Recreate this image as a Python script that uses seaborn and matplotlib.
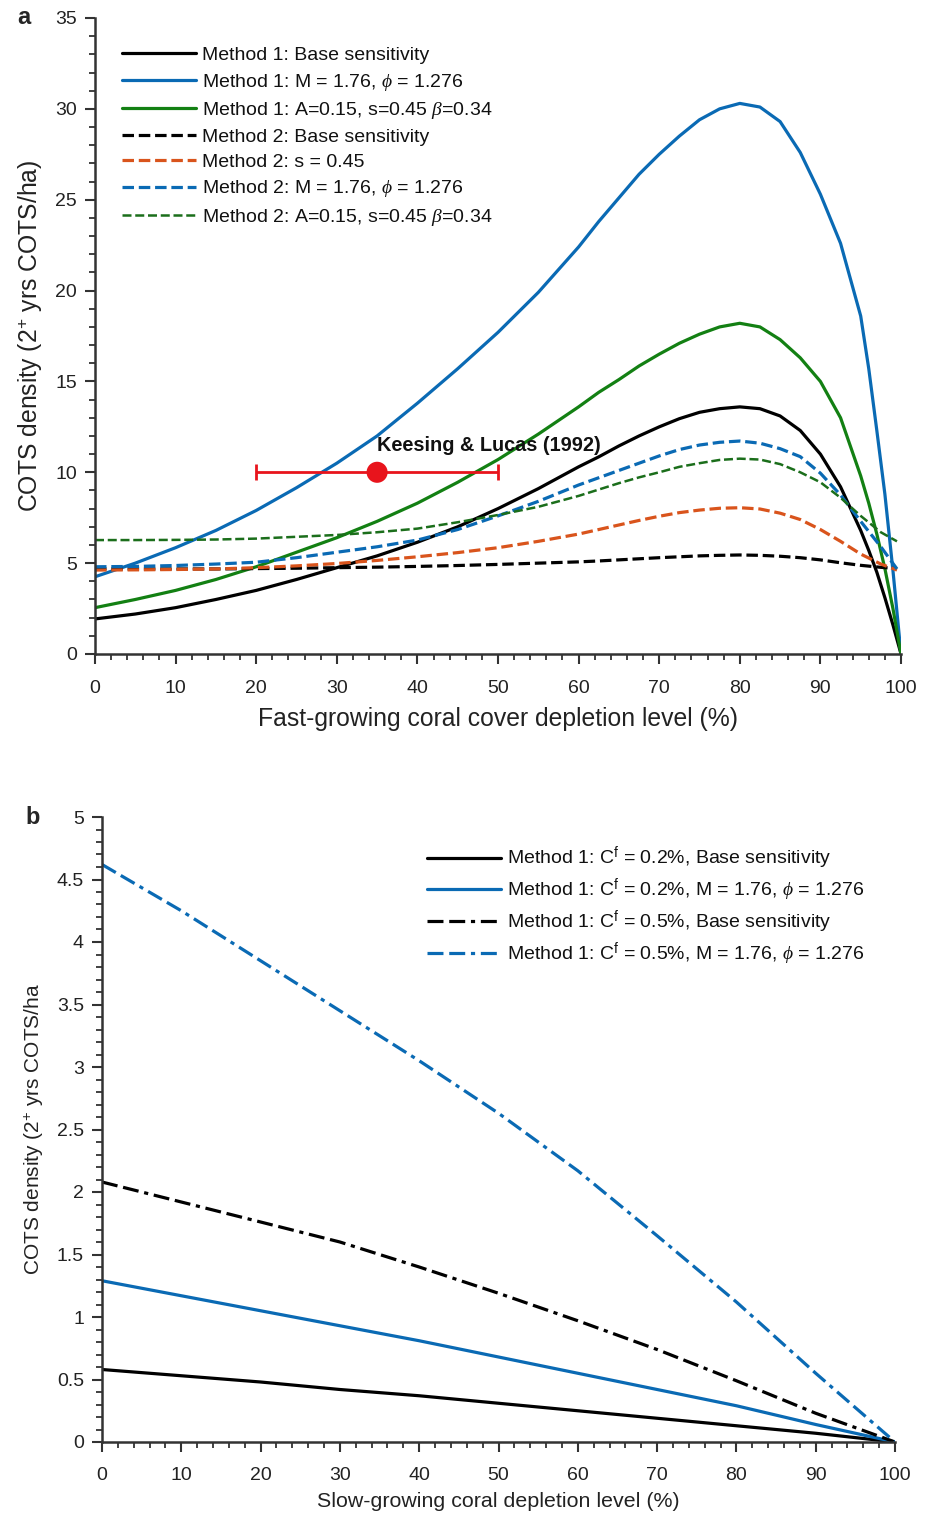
import numpy as np
import pandas as pd
import matplotlib
matplotlib.use("Agg")
import matplotlib.pyplot as plt
import seaborn as sns
from matplotlib.ticker import MultipleLocator, FuncFormatter

# ---------------- data: panel a ----------------
x_m1 = [0, 5, 10, 15, 20, 25, 30, 35, 40, 45, 50, 55, 60,
        62.5, 65, 67.5, 70, 72.5, 75, 77.5, 80, 82.5, 85, 87.5, 90, 92.5,
        95, 96, 97, 98, 99, 100]
m1_base = [1.93, 2.2, 2.55, 3.0, 3.5, 4.1, 4.75, 5.4, 6.15, 7.0, 8.0, 9.1, 10.3,
           10.85, 11.45, 12.0, 12.5, 12.95, 13.3, 13.5, 13.6, 13.5, 13.1, 12.3, 11.0, 9.2,
           6.8, 5.7, 4.5, 3.1, 1.6, 0.0]
m1_M = [4.25, 5.0, 5.85, 6.8, 7.9, 9.15, 10.5, 12.0, 13.8, 15.7, 17.7, 19.9, 22.4,
        23.8, 25.1, 26.4, 27.5, 28.5, 29.4, 30.0, 30.3, 30.1, 29.3, 27.6, 25.3, 22.6,
        18.6, 15.7, 12.3, 8.8, 4.6, 0.0]
m1_A = [2.55, 3.0, 3.5, 4.1, 4.8, 5.6, 6.4, 7.3, 8.3, 9.45, 10.7, 12.1, 13.6,
        14.4, 15.1, 15.85, 16.5, 17.1, 17.6, 18.0, 18.2, 18.0, 17.3, 16.3, 15.0, 13.0,
        9.8, 8.3, 6.6, 4.7, 2.5, 0.0]

x_m2 = [0, 5, 10, 15, 20, 25, 30, 35, 40, 45, 50, 55, 60,
        62.5, 65, 67.5, 70, 72.5, 75, 77.5, 80, 82.5, 85, 87.5, 90, 92.5, 95, 97.5, 99.5]
m2_base = [4.68, 4.68, 4.68, 4.68, 4.7, 4.72, 4.75, 4.78, 4.82, 4.87, 4.93, 5.0, 5.07,
           5.12, 5.18, 5.24, 5.3, 5.35, 5.4, 5.43, 5.45, 5.43, 5.38, 5.3, 5.18, 5.02, 4.88, 4.77, 4.7]
m2_s = [4.62, 4.63, 4.65, 4.68, 4.75, 4.85, 4.98, 5.15, 5.35, 5.58, 5.85, 6.2, 6.6,
        6.85, 7.1, 7.35, 7.58, 7.78, 7.92, 8.02, 8.05, 7.98, 7.75, 7.4, 6.85, 6.2, 5.5, 4.95, 4.62]
m2_M = [4.8, 4.82, 4.87, 4.95, 5.05, 5.3, 5.6, 5.9, 6.27, 6.85, 7.6, 8.4, 9.3,
        9.7, 10.1, 10.5, 10.9, 11.25, 11.5, 11.65, 11.72, 11.6, 11.3, 10.86, 9.95, 8.75, 7.3, 5.9, 4.68]
m2_A = [6.27, 6.27, 6.28, 6.3, 6.35, 6.45, 6.55, 6.7, 6.9, 7.25, 7.65, 8.1, 8.7,
        9.05, 9.4, 9.72, 10.0, 10.3, 10.5, 10.68, 10.75, 10.7, 10.45, 10.0, 9.45, 8.6, 7.6, 6.7, 6.2]

keesing_x = [35]
keesing_y = [10]
keesing_xerr = [15]
keesing_label = "Keesing & Lucas (1992)"

labels_a = ["Method 1: Base sensitivity",
            r"Method 1: M = 1.76, $\phi$ = 1.276",
            r"Method 1: A=0.15, s=0.45 $\beta$=0.34",
            "Method 2: Base sensitivity",
            "Method 2: s = 0.45",
            r"Method 2: M = 1.76, $\phi$ = 1.276",
            r"Method 2: A=0.15, s=0.45 $\beta$=0.34"]

# ---------------- data: panel b ----------------
x_b = [0, 10, 20, 30, 40, 50, 60, 70, 80, 90, 100]
b_02_base = [0.58, 0.53, 0.48, 0.42, 0.37, 0.31, 0.25, 0.19, 0.13, 0.07, 0.0]
b_02_M = [1.29, 1.17, 1.05, 0.93, 0.81, 0.68, 0.55, 0.42, 0.29, 0.14, 0.0]
b_05_base = [2.08, 1.92, 1.76, 1.6, 1.4, 1.19, 0.97, 0.74, 0.49, 0.23, 0.0]
b_05_M = [4.62, 4.25, 3.85, 3.45, 3.05, 2.63, 2.17, 1.65, 1.12, 0.55, 0.0]

labels_b = [r"Method 1: C$^{\mathrm{f}}$ = 0.2%, Base sensitivity",
            r"Method 1: C$^{\mathrm{f}}$ = 0.2%, M = 1.76, $\phi$ = 1.276",
            r"Method 1: C$^{\mathrm{f}}$ = 0.5%, Base sensitivity",
            r"Method 1: C$^{\mathrm{f}}$ = 0.5%, M = 1.76, $\phi$ = 1.276"]

# ---------------- style ----------------
sns.set_theme(style="ticks")
plt.rcParams["font.family"] = ["Liberation Sans", "DejaVu Sans"]
plt.rcParams["mathtext.fontset"] = "custom"
plt.rcParams["mathtext.rm"] = "Liberation Sans"
plt.rcParams["mathtext.it"] = "Liberation Serif:italic"
plt.rcParams["mathtext.bf"] = "Liberation Sans:bold"
plt.rcParams["mathtext.sf"] = "Liberation Sans"

BLACK = "#000000"
BLUE = "#0a6ab4"
GREEN = "#138013"
GREEN2 = "#1b6e1b"
ORANGE = "#d9541c"
RED = "#e8141c"
AX = "#333333"

DASH = (0, (3.6, 1.5))
DASHDOT = (0, (5, 1.8, 5, 1.8, 1.3, 1.8))

fig = plt.figure(figsize=(9.33, 15.15), dpi=100)
ax_a = fig.add_axes([95 / 933, 1 - 654 / 1515, (901 - 95) / 933, (654 - 18) / 1515])
ax_b = fig.add_axes([102 / 933, 1 - 1442 / 1515, (895 - 102) / 933, (1442 - 817) / 1515])

LW = 2.3
fmt_g = FuncFormatter(lambda v, p: "%g" % round(v, 3))

def style_axes(ax, xmaj, xmin, ymaj, ymin, fs, xpad, ypad):
    for s in ["top", "right"]:
        ax.spines[s].set_visible(False)
    for s in ["left", "bottom"]:
        ax.spines[s].set_color(AX)
        ax.spines[s].set_linewidth(1.8)
    ax.xaxis.set_major_locator(MultipleLocator(xmaj))
    ax.xaxis.set_minor_locator(MultipleLocator(xmin))
    ax.yaxis.set_major_locator(MultipleLocator(ymaj))
    ax.yaxis.set_minor_locator(MultipleLocator(ymin))
    ax.xaxis.set_major_formatter(fmt_g)
    ax.yaxis.set_major_formatter(fmt_g)
    ax.tick_params(which="major", direction="out", length=7, width=1.5, color=AX,
                   labelsize=fs, labelcolor="#222222")
    ax.tick_params(axis="x", which="major", pad=xpad)
    ax.tick_params(axis="y", which="major", pad=ypad)
    ax.tick_params(which="minor", direction="out", length=4, width=1.3, color=AX)
    ax.grid(False)

# ---------------- panel a ----------------
series_a = [(x_m1, m1_base, BLACK, "-", LW),
            (x_m1, m1_M, BLUE, "-", LW),
            (x_m1, m1_A, GREEN, "-", LW),
            (x_m2, m2_base, BLACK, DASH, LW),
            (x_m2, m2_s, ORANGE, DASH, LW),
            (x_m2, m2_M, BLUE, DASH, LW),
            (x_m2, m2_A, GREEN2, DASH, 1.8)]
for (xs, ys, c, ls, lw), lab in zip(series_a, labels_a):
    df = pd.DataFrame({"x": xs, "y": ys})
    sns.lineplot(data=df, x="x", y="y", ax=ax_a, color=c, linestyle=ls, linewidth=lw, label=lab)

ax_a.errorbar(keesing_x, keesing_y, xerr=keesing_xerr, fmt="none", ecolor=RED,
              elinewidth=2, capsize=6, capthick=2, zorder=5)
sns.scatterplot(x=keesing_x, y=keesing_y, ax=ax_a, color=RED, s=230, edgecolor="none", zorder=6, legend=False)
ax_a.text(keesing_x[0], keesing_y[0] + 1.45, keesing_label, fontsize=14.3, fontweight="bold",
          ha="left", va="center", color="#111111")

ax_a.set_xlim(0, 100)
ax_a.set_ylim(0, 35)
style_axes(ax_a, 10, 2, 5, 1, 14, 12, 6)
ax_a.set_xlabel("Fast-growing coral cover depletion level (%)", fontsize=17.8, color="#222222", labelpad=7)
ax_a.set_ylabel(r"COTS density (2$^{+}$ yrs COTS/ha)", fontsize=17.8, color="#222222", labelpad=8)
leg_a = ax_a.legend(loc="upper left", bbox_to_anchor=(0.034, 0.955), frameon=False, fontsize=14,
                    handlelength=3.8, handletextpad=0.3, labelspacing=0.38, borderpad=0, borderaxespad=0)
for t in leg_a.get_texts():
    t.set_color("#111111")

# ---------------- panel b ----------------
series_b = [(b_02_base, BLACK, "-"),
            (b_02_M, BLUE, "-"),
            (b_05_base, BLACK, DASHDOT),
            (b_05_M, BLUE, DASHDOT)]
for (ys, c, ls), lab in zip(series_b, labels_b):
    df = pd.DataFrame({"x": x_b, "y": ys})
    sns.lineplot(data=df, x="x", y="y", ax=ax_b, color=c, linestyle=ls, linewidth=LW, label=lab)

ax_b.set_xlim(0, 100)
ax_b.set_ylim(0, 5)
style_axes(ax_b, 10, 2, 0.5, 0.1, 14, 11, 6)
ax_b.set_xlabel("Slow-growing coral depletion level (%)", fontsize=15.4, color="#222222", labelpad=6)
ax_b.set_ylabel(r"COTS density (2$^{+}$ yrs COTS/ha", fontsize=15, color="#222222", labelpad=8)
leg_b = ax_b.legend(loc="upper left", bbox_to_anchor=(0.41, 0.955), frameon=False, fontsize=14,
                    handlelength=3.8, handletextpad=0.3, labelspacing=0.24, borderpad=0, borderaxespad=0)
for t in leg_b.get_texts():
    t.set_color("#111111")

fig.text(17 / 933, 1 - 18 / 1515, "a", fontsize=17, fontweight="bold", ha="left", va="center")
fig.text(25 / 933, 1 - 817 / 1515, "b", fontsize=17, fontweight="bold", ha="left", va="center")

fig.savefig("out.png", dpi=100, facecolor="white")
